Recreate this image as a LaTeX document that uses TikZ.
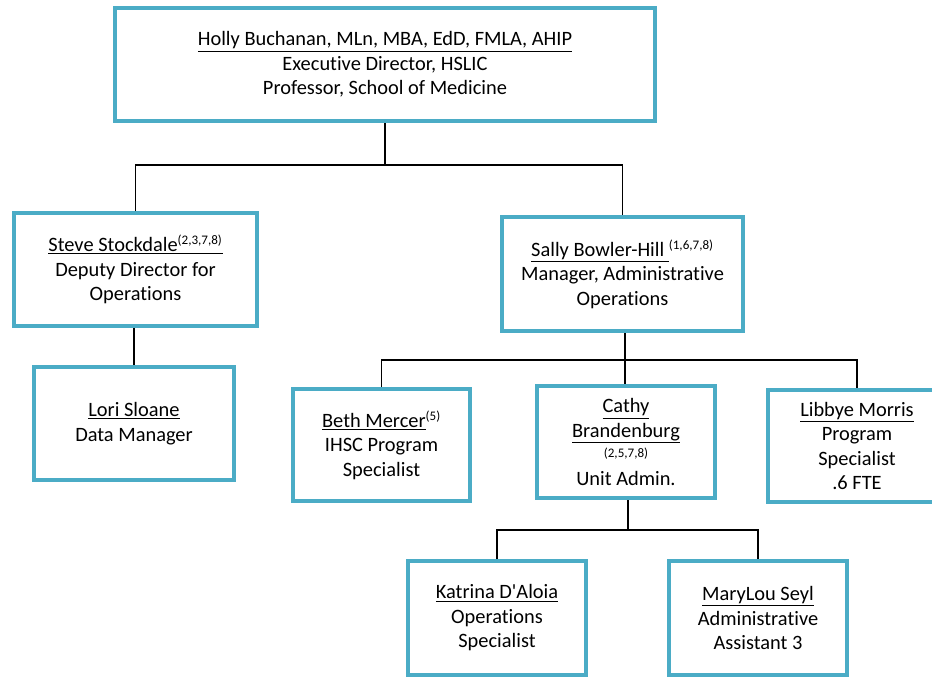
\documentclass[tikz,border=0pt]{standalone}
\usepackage{fontspec}
\setmainfont{Carlito}[Ligatures=NoCommon]
\definecolor{boxblue}{RGB}{75,172,198}
\newcommand{\refs}[1]{\textsuperscript{\fontsize{9.8}{11}\selectfont #1}}
\begin{document}
\begin{tikzpicture}[x=0.75pt, y=-0.75pt,
    staff/.style={draw=boxblue, line width=3pt, fill=white, align=center, inner sep=0pt,
      font=\fontsize{15.3}{18.4}\selectfont},
    link/.style={line width=1pt}]
  \clip (0,0) rectangle (932,676);
  \node[staff, minimum width=405pt, minimum height=84.75pt] (emp0) at (385,64.5)
    {\underline{Holly Buchanan, MLn, MBA, EdD, FMLA, AHIP}\\Executive Director, HSLIC\\Professor, School of Medicine};
  \node[staff, minimum width=182.25pt, minimum height=84.75pt] (emp1) at (135.5,269.5)
    {\underline{Steve Stockdale\refs{(2,3,7,8)}}\\Deputy Director for\\Operations};
  \node[staff, minimum width=180.75pt, minimum height=85.5pt] (emp2) at (622.5,274)
    {\underline{Sally Bowler-Hill }\refs{(1,6,7,8)}\\Manager, Administrative\\Operations};
  \node[staff, minimum width=150pt, minimum height=84.75pt] (emp3) at (134,423.5)
    {\underline{Lori Sloane}\\Data Manager};
  \node[staff, minimum width=132.75pt, minimum height=84pt] (emp4) at (381.5,445)
    {\underline{Beth Mercer}\refs{(5)}\\IHSC Program\\Specialist};
  \node[staff, minimum width=133.5pt, minimum height=84pt] (emp5) at (626,442)
    {\underline{Cathy}\\\underline{Brandenburg}\\[-3.4pt]{\fontsize{9.8}{11}\selectfont (2,5,7,8)}\\[2.6pt]Unit Admin.};
  \node[staff, minimum width=133.5pt, minimum height=84pt] (emp6) at (857,446)
    {\underline{Libbye Morris}\\Program\\Specialist\\.6 FTE};
  \node[staff, minimum width=133.5pt, minimum height=85.5pt] (emp7) at (497,618)
    {\underline{Katrina D\textquotesingle Aloia}\\Operations\\Specialist};
  \node[staff, minimum width=133.5pt, minimum height=85.5pt] (emp8) at (758,618)
    {\underline{MaryLou Seyl}\\Administrative\\Assistant 3};
  % junctions of the connector lines
  \coordinate (j0) at (386,165);
  \coordinate (j1) at (625,360);
  \coordinate (j2) at (628,530);
  \draw[link] (emp0.south) -- (emp0.south |- j0);
  \draw[link] (emp1.north) |- (j0) -| (emp2.north);
  \draw[link] (emp3.north) -- (emp3.north |- emp1.south);
  \draw[link] (emp2.south -| j1) -- (j1);
  \draw[link] (emp4.north) |- (j1) -| (emp6.north);
  \draw[link] (j1) -- (j1 |- emp5.north);
  \draw[link] (emp5.south -| j2) -- (j2);
  \draw[link] (emp7.north) |- (j2) -| (emp8.north);
\end{tikzpicture}
\end{document}
